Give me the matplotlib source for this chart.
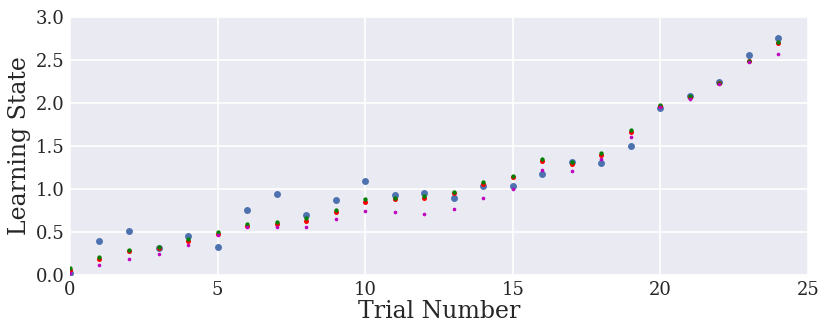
import matplotlib
matplotlib.use("Agg")
import matplotlib.pyplot as plt

# trial index and learning-state estimates for four models
trials = list(range(25))
blue_vals = [0.02, 0.40, 0.51, 0.31, 0.45, 0.33, 0.76, 0.94, 0.70, 0.87,
             1.09, 0.93, 0.95, 0.90, 1.03, 1.04, 1.17, 1.31, 1.30, 1.50,
             1.94, 2.085, 2.24, 2.56, 2.75]
red_vals = [0.06, 0.186, 0.275, 0.31, 0.395, 0.48, 0.57, 0.59, 0.63, 0.73,
            0.85, 0.88, 0.895, 0.95, 1.06, 1.135, 1.33, 1.29, 1.40, 1.66,
            1.965, 2.07, 2.23, 2.485, 2.70]
green_vals = [0.08, 0.205, 0.29, 0.33, 0.42, 0.50, 0.59, 0.62, 0.66, 0.76,
              0.88, 0.90, 0.915, 0.97, 1.085, 1.155, 1.35, 1.31, 1.42, 1.686,
              1.98, 2.08, 2.235, 2.49, 2.71]
magenta_vals = [0.02, 0.116, 0.186, 0.244, 0.35, 0.46, 0.56, 0.56, 0.56, 0.65,
                0.74, 0.73, 0.71, 0.77, 0.895, 0.995, 1.22, 1.21, 1.345, 1.60,
                1.957, 2.05, 2.22, 2.48, 2.575]

plt.rcParams["font.family"] = "DejaVu Serif"

fig = plt.figure(figsize=(8.3, 3.32), dpi=100)
ax = fig.add_axes([0.0843, 0.1717, 0.889, 0.7771])
ax.set_facecolor("#EAEAF2")
for s in ax.spines.values():
    s.set_visible(False)
ax.grid(True, color="white", lw=1.2)
ax.set_axisbelow(True)

ax.plot(trials, blue_vals, "o", color="#4C72B0", ms=5.0, mew=0)
ax.plot(trials, red_vals, "o", color="red", ms=3.6, mew=0)
ax.plot(trials, green_vals, "o", color="green", ms=3.1, mew=0)
ax.plot(trials, magenta_vals, "o", color="m", ms=2.6, mew=0)

ax.set_xlim(0, 25)
ax.set_ylim(0, 3.0)
ax.set_xticks([0, 5, 10, 15, 20, 25])
ax.set_yticks([0.0, 0.5, 1.0, 1.5, 2.0, 2.5, 3.0])
ax.tick_params(length=0, labelsize=13, colors="#262626", pad=4)
ax.set_xlabel("Trial Number", fontsize=17, color="#262626", labelpad=1)
ax.set_ylabel("Learning State", fontsize=17, color="#262626", labelpad=3)

fig.savefig("out.png", dpi=100)
